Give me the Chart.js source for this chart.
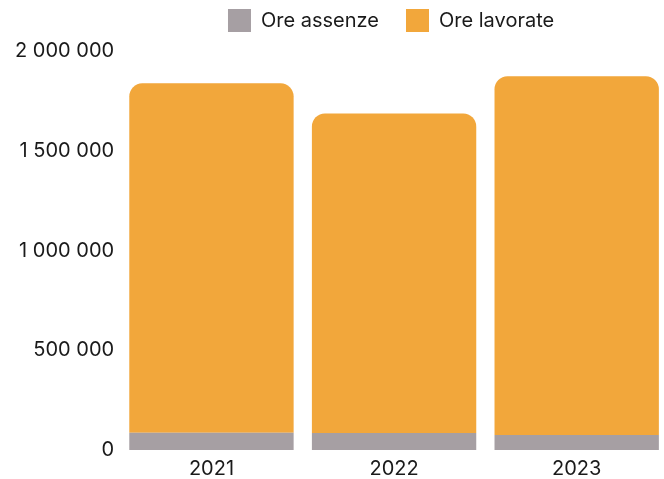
<!DOCTYPE html>
<html>
<head>
<meta charset="utf-8">
<script src="https://cdn.jsdelivr.net/npm/chart.js@4"></script>
<style>
  html, body { margin: 0; padding: 0; background: #fff; overflow: hidden; }
  .wrap { width: 668px; height: 479px; }
</style>
</head>
<body>
<div class="wrap"><canvas id="oreChart"></canvas></div>
<script>
// data
const anni = ['2021', '2022', '2023'];
const oreAssenze = [87000, 85000, 75000];
const oreLavorate = [1751000, 1602000, 1799000];
const yTicks = [0, 500000, 1000000, 1500000, 2000000];

// thousands with a plain space
function fmt(v) {
  return String(v).replace(/\B(?=(\d{3})+(?!\d))/g, ' ');
}

// wide gap between legend items but keep the legend short,
// and centre it over the plot area instead of the canvas
const legendTweak = {
  id: 'legendTweak',
  beforeInit(chart) {
    const l = chart.legend;
    if (!l) return;
    const origFit = l.fit;
    l.fit = function () {
      origFit.call(this);
      this.height = 51;
    };
  },
  afterLayout(chart) {
    const l = chart.legend;
    const ca = chart.chartArea;
    l.left = ca.left - 3;
    l.right = ca.right - 3;
    l.width = l.right - l.left;
    l.top = -18;
    l.bottom = 59;
    l.height = 77;
  }
};

Chart.defaults.font.family = 'Inter';
Chart.defaults.font.size = 20;
Chart.defaults.color = '#1a1a1a';

const ctx = document.getElementById('oreChart').getContext('2d');
new Chart(ctx, {
  type: 'bar',
  data: {
    labels: anni,
    datasets: [
      {
        label: 'Ore assenze',
        data: oreAssenze,
        backgroundColor: '#a69fa3',
        borderWidth: 0
      },
      {
        label: 'Ore lavorate',
        data: oreLavorate,
        backgroundColor: '#f2a73b',
        borderWidth: 0,
        borderRadius: { topLeft: 13, topRight: 13, bottomLeft: 0, bottomRight: 0 },
        borderSkipped: 'bottom'
      }
    ]
  },
  options: {
    responsive: true,
    maintainAspectRatio: false,
    animation: false,
    layout: { padding: { left: 9, top: 0, right: 0, bottom: -1 } },
    categoryPercentage: 0.9,
    barPercentage: 1,
    plugins: {
      legend: {
        position: 'top',
        labels: { boxWidth: 23, boxHeight: 23, padding: 27 }
      },
      tooltip: { enabled: false }
    },
    scales: {
      x: {
        stacked: true,
        grid: { display: false },
        border: { display: false },
        ticks: { padding: -1 }
      },
      y: {
        stacked: true,
        min: 0,
        max: 2000000,
        grid: { display: false, drawTicks: false },
        border: { display: false },
        afterBuildTicks(scale) {
          scale.ticks = yTicks.map(v => ({ value: v }));
        },
        ticks: {
          padding: 6,
          callback: v => fmt(v)
        }
      }
    }
  },
  plugins: [legendTweak]
});
</script>
</body>
</html>
